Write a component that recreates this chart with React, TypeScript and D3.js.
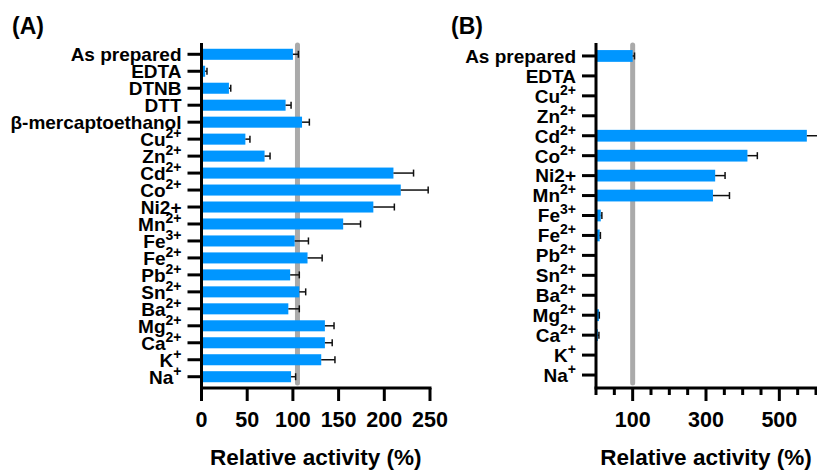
import React from 'react';
import * as d3 from 'd3';

// '^' splits a label into base text and superscript
const categoriesA = [
  'As prepared', 'EDTA', 'DTNB', 'DTT', 'β-mercaptoethanol', 'Cu^2+', 'Zn^2+', 'Cd^2+', 'Co^2+',
  'Ni2+', 'Mn^2+', 'Fe^3+', 'Fe^2+', 'Pb^2+', 'Sn^2+', 'Ba^2+', 'Mg^2+', 'Ca^2+', 'K^+', 'Na^+',
];
const valuesA = [100, 4, 30, 92, 110, 48, 69, 210, 218, 188, 155, 102, 116, 97, 107, 95, 135, 135, 131, 98];
const errorsA = [6, 2, 2, 6, 8, 5, 6, 22, 30, 23, 19, 15, 16, 10, 7, 12, 10, 8, 15, 5];
const ticksA = [0, 50, 100, 150, 200, 250];

const categoriesB = [
  'As prepared', 'EDTA', 'Cu^2+', 'Zn^2+', 'Cd^2+', 'Co^2+', 'Ni2+', 'Mn^2+', 'Fe^3+',
  'Fe^2+', 'Pb^2+', 'Sn^2+', 'Ba^2+', 'Mg^2+', 'Ca^2+', 'K^+', 'Na^+',
];
const valuesB = [100, 0, 0, 0, 575, 413, 325, 319, 13, 10, 0, 0, 0, 8, 5, 0, 0];
const errorsB = [5, 0, 0, 0, 40, 27, 27, 45, 3, 2, 0, 0, 0, 1, 3, 0, 0];
const majorTicksB = [100, 300, 500];
const minorTicksB = [0, 50, 150, 200, 250, 350, 400, 450, 550, 600];

const BLUE = '#0096ff';
const GREY = '#aaaaaa';
const FONT = '"Liberation Sans", Arial, sans-serif';

type PanelProps = {
  tag: string;
  tagX: number;
  categories: string[];
  values: number[];
  errors: number[];
  domain: [number, number];
  xRange: [number, number];
  refValue: number;
  majorTicks: number[];
  minorTicks: number[];
  labelTicks: number[];
  padInner: number;
  padOuter: number;
};

function Label({ text, x, y }: { text: string; x: number; y: number }) {
  const [base, sup] = text.split('^');
  return (
    <text x={x} y={y} dy="0.36em" textAnchor="end" fontSize={19} fontWeight="bold">
      {base}
      {sup && (
        <tspan fontSize={14} dy={-8}>{sup}</tspan>
      )}
    </text>
  );
}

function Panel(props: PanelProps) {
  const { categories, values, errors, domain, xRange } = props;
  const top = 43;
  const bottom = 388;

  const x = d3.scaleLinear().domain(domain).range(xRange);
  const y = d3.scaleBand<string>()
    .domain(categories)
    .range([top, bottom])
    .paddingInner(props.padInner)
    .paddingOuter(props.padOuter);

  const x0 = x(0);
  const bw = y.bandwidth();

  return (
    <g fontFamily={FONT}>
      <text x={props.tagX} y={34} fontSize={23} fontWeight="bold">{props.tag}</text>

      {/* reference line */}
      <line x1={x(props.refValue)} x2={x(props.refValue)} y1={top + 2} y2={bottom - 5}
        stroke={GREY} strokeWidth={5} strokeLinecap="round" />

      {categories.map((c, i) => {
        const yc = (y(c) as number) + bw / 2;
        const v = values[i];
        const e = errors[i];
        return (
          <g key={c}>
            {v > 0 && (
              <rect x={x0} y={y(c)} width={x(v) - x0} height={bw} fill={BLUE} />
            )}
            {v > 0 && (
              <g stroke="#111" strokeWidth={1.5}>
                <line x1={x(v)} x2={x(v + e)} y1={yc} y2={yc} />
                <line x1={x(v + e)} x2={x(v + e)} y1={yc - 3.5} y2={yc + 3.5} />
              </g>
            )}
            <line x1={x0 - 14} x2={x0} y1={yc} y2={yc} stroke="#000" strokeWidth={3} />
            <Label text={c} x={x0 - 20} y={yc} />
          </g>
        );
      })}

      {/* axes */}
      <line x1={x0} x2={x0} y1={top} y2={bottom} stroke="#000" strokeWidth={3} />
      <line x1={x0 - 1.5} x2={x(domain[1]) + 1.5} y1={bottom} y2={bottom} stroke="#000" strokeWidth={3} />
      {props.majorTicks.map(t => (
        <line key={'M' + t} x1={x(t)} x2={x(t)} y1={bottom} y2={bottom + 13} stroke="#000" strokeWidth={3} />
      ))}
      {props.minorTicks.map(t => (
        <line key={'m' + t} x1={x(t)} x2={x(t)} y1={bottom} y2={bottom + 7} stroke="#000" strokeWidth={3} />
      ))}
      {props.labelTicks.map(t => (
        <text key={'l' + t} x={x(t)} y={427} textAnchor="middle" fontSize={21.5} fontWeight="bold">{t}</text>
      ))}
      <text x={(xRange[0] + xRange[1]) / 2} y={465} textAnchor="middle" fontSize={22.5} fontWeight="bold">
        Relative activity (%)
      </text>
    </g>
  );
}

export default function App() {
  return (
    <div style={{ position: 'absolute', left: 0, top: 0 }}>
      <svg width={817} height={471} style={{ display: 'block', background: '#fff' }}>
        <Panel
          tag="(A)" tagX={12}
          categories={categoriesA} values={valuesA} errors={errorsA}
          domain={[0, 250]} xRange={[201.5, 430]} refValue={105}
          majorTicks={ticksA} minorTicks={[]} labelTicks={ticksA}
          padInner={0.35} padOuter={0.34}
        />
        <Panel
          tag="(B)" tagX={451}
          categories={categoriesB} values={valuesB} errors={errorsB}
          domain={[0, 600]} xRange={[596, 816]} refValue={100}
          majorTicks={majorTicksB} minorTicks={minorTicksB} labelTicks={majorTicksB}
          padInner={0.41} padOuter={0.355}
        />
      </svg>
    </div>
  );
}
